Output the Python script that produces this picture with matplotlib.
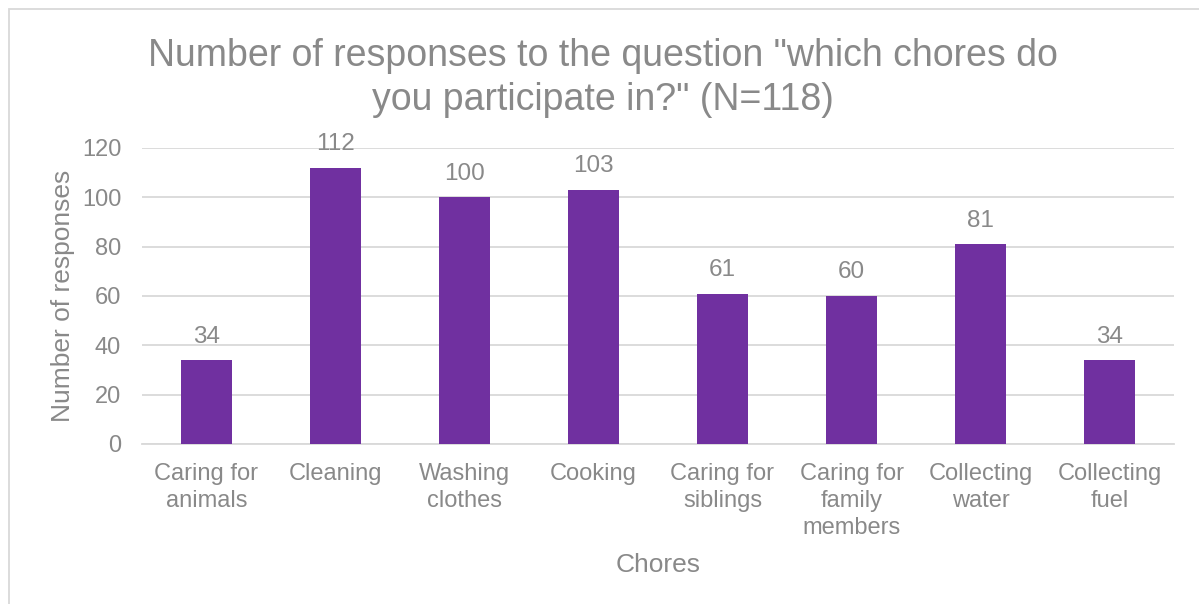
import matplotlib
matplotlib.use("Agg")
import matplotlib.pyplot as plt
from matplotlib.patches import Rectangle

categories = ["Caring for\nanimals", "Cleaning", "Washing\nclothes", "Cooking",
              "Caring for\nsiblings", "Caring for\nfamily\nmembers",
              "Collecting\nwater", "Collecting\nfuel"]
responses = [34, 112, 100, 103, 61, 60, 81, 34]
y_ticks = [0, 20, 40, 60, 80, 100, 120]

TEXT = "#898989"
BAR = "#7030A0"
GRID = "#D9D9D9"

plt.rcParams["font.family"] = ["Liberation Sans", "DejaVu Sans"]

W, H = 1199, 604
fig = plt.figure(figsize=(W / 100, H / 100), dpi=100)

# outer chart border
fig.patches.append(Rectangle((9 / W, -0.1), 1.2, 1 - 9 / H + 0.1,
                             transform=fig.transFigure, fill=False,
                             edgecolor=GRID, linewidth=1.3))

left, right = 142 / W, 1174 / W
bottom, top = 1 - 444 / H, 1 - 148 / H
ax = fig.add_axes([left, bottom, right - left, top - bottom])

x = range(len(categories))
bars = ax.bar(x, responses, width=0.4, color=BAR, zorder=3)
for xi, v in zip(x, responses):
    ax.annotate(str(v), (xi, v), xytext=(0, 9), textcoords="offset points",
                ha="center", va="bottom", fontsize=17.5, color=TEXT)

ax.set_xlim(-0.5, len(categories) - 0.5)
ax.set_ylim(0, 120)
ax.set_yticks(y_ticks)
ax.set_xticks(list(x))
ax.set_xticklabels(categories, fontsize=17, color=TEXT, linespacing=1.27)
ax.tick_params(axis="y", labelsize=17, labelcolor=TEXT, length=0, pad=15)
ax.tick_params(axis="x", length=0, pad=14)
ax.grid(axis="y", color=GRID, linewidth=1.3, zorder=0)
for s in ["top", "right", "left"]:
    ax.spines[s].set_visible(False)
ax.spines["bottom"].set_color(GRID)
ax.spines["bottom"].set_linewidth(1.3)

ax.set_ylabel("Number of responses", fontsize=19, color=TEXT, labelpad=5)
ax.set_xlabel("Chores", fontsize=19, color=TEXT, labelpad=10)

fig.text(603 / W, 1 - 78 / H,
         "Number of responses to the question \"which chores do\nyou participate in?\" (N=118)",
         ha="center", va="center", fontsize=27, color=TEXT, linespacing=1.29)

fig.savefig("out.png", dpi=100, facecolor="white")
